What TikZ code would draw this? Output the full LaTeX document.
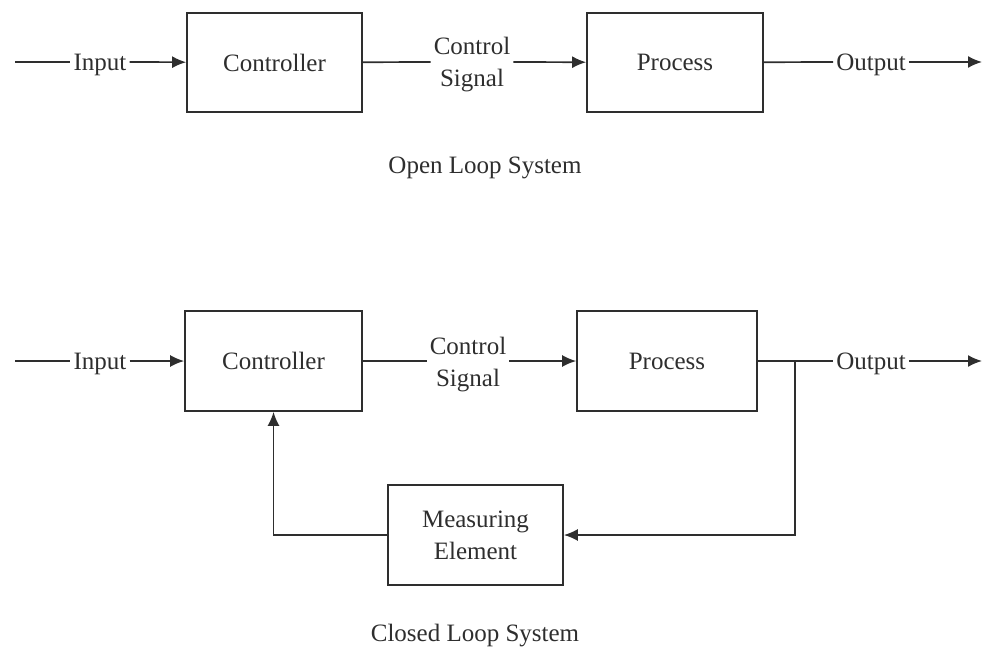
\documentclass[tikz,border=0pt]{standalone}
\usepackage{fontspec}
\setmainfont{LiberationSerif-Regular.ttf}
\usetikzlibrary{arrows.meta}
\definecolor{ink}{HTML}{2E2E2E}
\begin{document}
\begin{tikzpicture}[x=1pt,y=-1pt,
  every node/.style={text=ink},
  blk/.style={draw=ink, line width=1.7pt, inner sep=0pt, font=\fontsize{25}{32}\selectfont, align=center},
  lbl/.style={inner sep=3pt, font=\fontsize{25}{32}\selectfont, align=center, yshift=-2.5pt},
  ttl/.style={inner sep=0pt, font=\fontsize{25}{32}\selectfont, yshift=-3pt},
  ln/.style={draw=ink, line width=1.7pt},
  arr/.style={ln, -{Latex[length=14pt,width=12pt]}}]
\useasboundingbox (0,0) rectangle (982,647);
% ---- Open loop
\node[blk, minimum width=175pt, minimum height=99pt] (c1) at (274.5,62.5) {Controller};
\node[blk, minimum width=176pt, minimum height=99pt] (p1) at (675,62.5) {Process};
\coordinate (s1) at (15,62);
\coordinate (e1) at (982,62);
\node[lbl] (in1) at (100,62) {Input};
\node[lbl] (cs1) at (472,62) {Control\\Signal};
\node[lbl] (out1) at (871,62) {Output};
\node[ttl] (t1) at (485,165) {Open Loop System};
\draw[ln] (s1) -- (in1.west |- s1);
\draw[arr] (in1.east |- s1) -- (c1);
\draw[ln] (c1) -- (cs1.west |- s1);
\draw[arr] (cs1.east |- s1) -- (p1);
\draw[ln] (p1) -- (out1.west |- s1);
\draw[arr] (out1.east |- s1) -- (e1);
% ---- Closed loop
\node[blk, minimum width=177pt, minimum height=100pt] (c2) at (273.5,361) {Controller};
\node[blk, minimum width=180pt, minimum height=100pt] (p2) at (667,361) {Process};
\node[blk, minimum width=175pt, minimum height=100pt] (m) at (475.5,535) {Measuring\\Element};
\coordinate (s2) at (15,361);
\coordinate (e2) at (982,361);
\coordinate (b) at (795,361);
\coordinate (f1) at (795,535);
\node[lbl] (in2) at (100,361) {Input};
\node[lbl] (cs2) at (468,362) {Control\\Signal};
\node[lbl] (out2) at (871,361) {Output};
\node[ttl] (t2) at (475,633) {Closed Loop System};
\draw[ln] (s2) -- (in2.west |- s2);
\draw[arr] (in2.east |- s2) -- (c2);
\draw[ln] (c2) -- (cs2.west |- s2);
\draw[arr] (cs2.east |- s2) -- (p2);
\draw[ln] (p2) -- (b) -- (out2.west |- s2);
\draw[arr] (out2.east |- s2) -- (e2);
\draw[arr] (b) -- (f1) -- (m.east);
\draw[arr] (m.west) -| (c2.south);
\end{tikzpicture}
\end{document}
